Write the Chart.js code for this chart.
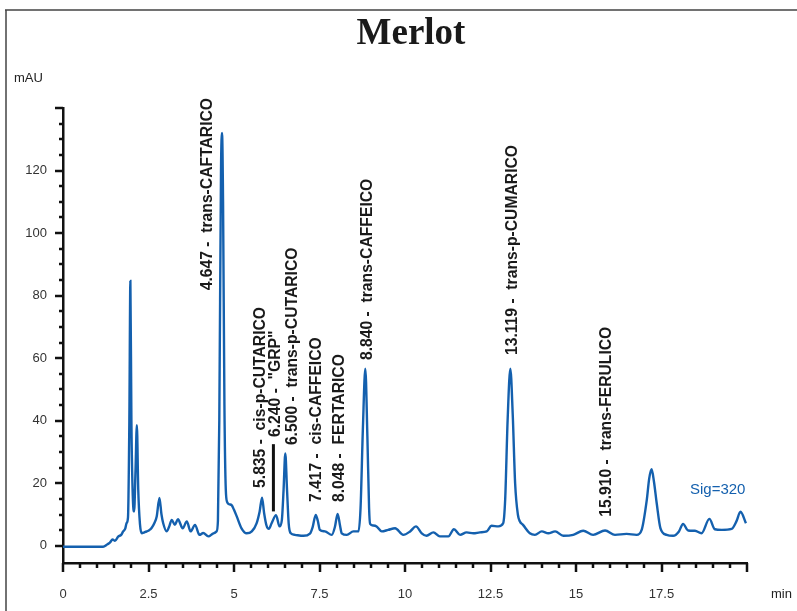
<!DOCTYPE html>
<html>
<head>
<meta charset="utf-8">
<title>Merlot</title>
<script src="https://cdn.jsdelivr.net/npm/chart.js@4.4.1/dist/chart.umd.min.js"></script>
<style>
  html, body { margin: 0; padding: 0; background: #fff; }
  canvas { display: block; }
</style>
</head>
<body>
<canvas id="merlotChart" width="797" height="611"></canvas>
<script>
(function () {
    "use strict";

    // retention time (min) and absorbance (mAU)
    var rtMin = [0, 1.17, 1.3, 1.37, 1.45, 1.52, 1.62, 1.7, 1.76, 1.82, 1.86, 1.9, 1.94, 1.97, 2.0, 2.04, 2.08, 2.12, 2.16, 2.2,
        2.25, 2.3, 2.38, 2.45, 2.52, 2.59, 2.67, 2.74, 2.82, 2.88, 2.93, 3.03, 3.1, 3.18, 3.27, 3.36, 3.5, 3.62, 3.73, 3.86,
        3.99, 4.1, 4.25, 4.4, 4.49, 4.53, 4.57, 4.62, 4.65, 4.68, 4.72, 4.76, 4.8, 4.86, 4.93, 5.0, 5.08, 5.22, 5.37, 5.52,
        5.66, 5.75, 5.82, 5.88, 5.95, 6.02, 6.1, 6.23, 6.33, 6.4, 6.45, 6.5, 6.55, 6.6, 6.66, 6.78, 7.03, 7.22, 7.3, 7.39,
        7.45, 7.51, 7.66, 7.86, 7.95, 8.03, 8.1, 8.15, 8.3, 8.49, 8.64, 8.7, 8.77, 8.84, 8.9, 8.95, 8.98, 9.07, 9.17, 9.32,
        9.51, 9.71, 9.95, 10.15, 10.32, 10.49, 10.63, 10.83, 11.02, 11.27, 11.43, 11.61, 11.8, 12.0, 12.19, 12.39, 12.53, 12.73, 12.87, 12.93,
        13.0, 13.08, 13.15, 13.22, 13.3, 13.36, 13.45, 13.65, 13.8, 14.0, 14.19, 14.39, 14.63, 14.92, 15.21, 15.5, 15.85, 16.14, 16.48, 16.77,
        16.92, 17.07, 17.14, 17.21, 17.28, 17.36, 17.47, 17.65, 17.84, 18.01, 18.13, 18.28, 18.48, 18.67, 18.9, 19.06, 19.26, 19.55, 19.69, 19.81,
        19.97];
    var mAU = [-0.3, -0.3, 0.5, 1.0, 2.0, 1.6, 3.0, 3.5, 4.6, 5.5, 7.3, 9, 40, 84.7, 40, 16, 11, 24, 38.6, 18,
        7, 4, 4.3, 4.6, 5, 5.7, 7.2, 9.4, 15.3, 10, 7.2, 4.6, 6, 8.3, 6.7, 8.5, 5.6, 7.8, 4.6, 6.7,
        3.5, 4.1, 3, 4, 4.6, 8, 40, 120, 132, 110, 45, 18, 14, 13.3, 13, 11.5, 9.4, 5.6, 4, 4.6,
        7.2, 11, 15.4, 10.5, 6.5, 5.4, 7.2, 9.8, 6.2, 8.3, 18, 29.5, 18, 7, 4, 3.5, 3.2, 3.9, 6, 9.9,
        8, 5.1, 4.6, 3.5, 6, 10.2, 6.5, 4, 3.5, 4.6, 4.6, 12, 38, 56.6, 35, 12, 7, 6.5, 6.2, 4.6,
        5.1, 5.6, 3.5, 4.6, 6.2, 4, 3.2, 4.3, 3, 3, 5.3, 3.5, 4.3, 4, 4.3, 4.6, 6.4, 6.2, 7.2, 15,
        40, 56.6, 42, 20, 10, 7.8, 6.7, 4, 3.5, 4.6, 4, 4.6, 3.2, 3.5, 4.8, 3.5, 4.9, 3.5, 3.8, 3.5,
        5.1, 14.7, 21.5, 24.5, 20.5, 13.6, 5.6, 3.5, 3.2, 4.6, 7.0, 4.9, 4.8, 4, 8.6, 5.3, 5.1, 5.4, 7.8, 10.9,
        7.2];

    // identified peaks
    var peakTimes = [4.647, 5.835, 6.240, 6.500, 7.417, 8.048, 8.840, 13.119, 15.910];
    var peakNames = ['trans-CAFTARICO', 'cis-p-CUTARICO', '"GRP"', 'trans-p-CUTARICO', 'cis-CAFFEICO',
        'FERTARICO', 'trans-CAFFEICO', 'trans-p-CUMARICO', 'trans-FERULICO'];

    // axis tick labels
    var xTickLabels = [0, 2.5, 5, 7.5, 10, 12.5, 15, 17.5];
    var yTickLabels = [0, 20, 40, 60, 80, 100, 120];

    var points = rtMin.map(function (t, i) { return { x: t, y: mAU[i] }; });

    var tickFont = { family: '"Liberation Sans", Arial, sans-serif', size: 13 };

    /* extra drawing: frame, ticks, title, peak names */
    var decorations = {
        id: 'decorations',
        afterDraw: function (chart) {
            var ctx = chart.ctx;
            var xs = chart.scales.x, ys = chart.scales.y;
            var area = chart.chartArea;
            var v, px, len;

            ctx.save();

            // frame
            ctx.strokeStyle = '#444';
            ctx.lineWidth = 1.5;
            ctx.beginPath();
            ctx.moveTo(5, 10);
            ctx.lineTo(797, 10);
            ctx.moveTo(6, 10);
            ctx.lineTo(6, 611);
            ctx.stroke();

            // tick marks
            ctx.strokeStyle = '#111';
            ctx.lineWidth = 2.5;
            ctx.beginPath();
            for (v = 0; v <= 20.001; v += 0.5) {
                px = Math.round(xs.getPixelForValue(v));
                len = (Math.abs(v / 2.5 - Math.round(v / 2.5)) < 0.001) ? 9 : 5;
                ctx.moveTo(px, area.bottom);
                ctx.lineTo(px, area.bottom + len);
            }
            for (v = 0; v <= 140; v += 5) {
                px = Math.round(ys.getPixelForValue(v));
                len = (v % 20 === 0) ? 8 : 4;
                ctx.moveTo(area.left, px);
                ctx.lineTo(area.left - len, px);
            }
            ctx.stroke();

            // title and axis units
            ctx.fillStyle = '#1a1a1a';
            ctx.font = 'bold 37px "Liberation Serif", "DejaVu Serif", serif';
            ctx.textAlign = 'center';
            ctx.textBaseline = 'alphabetic';
            ctx.fillText('Merlot', 411, 44);

            ctx.fillStyle = '#222';
            ctx.font = '13px "Liberation Sans", Arial, sans-serif';
            ctx.textAlign = 'left';
            ctx.textBaseline = 'middle';
            ctx.fillText('mAU', 14, 78);
            ctx.fillText('min', 771, 594);

            ctx.fillStyle = '#1460ae';
            ctx.font = '15px "Liberation Sans", Arial, sans-serif';
            ctx.fillText('Sig=320', 690, 490);

            // peak names, written upwards
            var lift = [81.7, 18.5, 34.8, 32.2, 14, 14, 59.4, 61, 9.3];
            var shift = [-14, -2, -1, 7, 0, 1, 2, 1, 0];
            ctx.fillStyle = '#1a1a1a';
            ctx.font = 'bold 15.7px "Liberation Sans", Arial, sans-serif';
            ctx.textAlign = 'left';
            ctx.textBaseline = 'middle';
            peakTimes.forEach(function (t, i) {
                var lx = xs.getPixelForValue(t) + shift[i];
                var ly = ys.getPixelForValue(lift[i]);
                ctx.save();
                ctx.translate(lx, ly);
                ctx.rotate(-Math.PI / 2);
                ctx.fillText(t.toFixed(3) + ' -  ' + peakNames[i], 0, 0);
                ctx.restore();
            });

            // marker bar under "GRP"
            ctx.strokeStyle = '#111';
            ctx.lineWidth = 3;
            ctx.beginPath();
            ctx.moveTo(xs.getPixelForValue(6.24) - 3, ys.getPixelForValue(32.5));
            ctx.lineTo(xs.getPixelForValue(6.24) - 3, ys.getPixelForValue(11));
            ctx.stroke();

            ctx.restore();
        }
    };

    var ctx = document.getElementById('merlotChart').getContext('2d');
    var chart = new Chart(ctx, {
        type: 'line',
        data: {
            datasets: [{
                label: 'Sig=320',
                data: points,
                borderColor: '#1460ae',
                borderWidth: 2.4,
                pointRadius: 0,
                fill: false,
                cubicInterpolationMode: 'monotone'
            }]
        },
        options: {
            responsive: false,
            animation: false,
            devicePixelRatio: 1,
            layout: { padding: { left: 0, top: 108, right: 50, bottom: 0 } },
            plugins: {
                legend: { display: false },
                tooltip: { enabled: false }
            },
            scales: {
                x: {
                    type: 'linear',
                    min: 0,
                    max: 20,
                    afterBuildTicks: function (s) { s.ticks = xTickLabels.map(function (v) { return { value: v }; }); },
                    afterFit: function (s) { s.height = 48; },
                    grid: { display: false, drawTicks: false },
                    border: { display: true, color: '#111', width: 2.5 },
                    ticks: {
                        font: tickFont,
                        color: '#333',
                        padding: 24,
                        maxRotation: 0,
                        autoSkip: false,
                        callback: function (v) { return String(v); }
                    }
                },
                y: {
                    type: 'linear',
                    min: -5.5,
                    max: 140,
                    afterBuildTicks: function (s) { s.ticks = yTickLabels.map(function (v) { return { value: v }; }); },
                    afterFit: function (s) { s.width = 63; },
                    grid: { display: false, drawTicks: false },
                    border: { display: true, color: '#111', width: 2.5 },
                    ticks: {
                        font: tickFont,
                        color: '#333',
                        padding: 16,
                        callback: function (v) { return String(v); }
                    }
                }
            }
        },
        plugins: [decorations]
    });
})();
</script>
</body>
</html>
